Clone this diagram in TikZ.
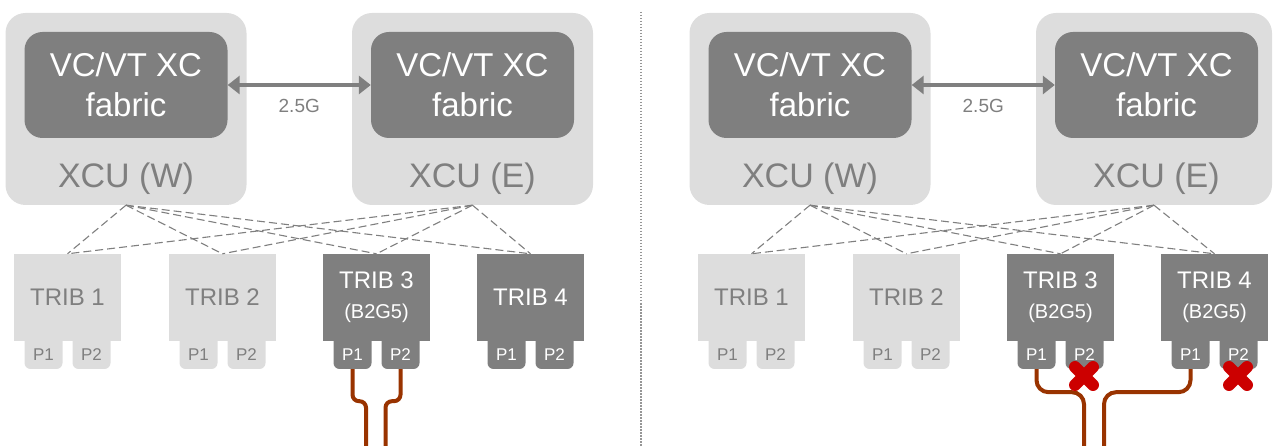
\documentclass[tikz,border=0pt]{standalone}
\usepackage{fontspec}
\setmainfont{Liberation Sans}
\usetikzlibrary{arrows.meta}

\definecolor{boxlight}{RGB}{221,221,221}
\definecolor{boxdark}{RGB}{127,127,127}
\definecolor{textgray}{RGB}{127,127,127}
\definecolor{cablebrown}{RGB}{153,51,0}
\definecolor{failred}{RGB}{204,0,0}
\definecolor{sepgray}{RGB}{150,150,150}

\tikzset{
	xcu_box/.style={fill=boxlight, rounded corners=20pt, minimum width=241pt, minimum height=192pt, inner sep=0pt},
	fabric_box/.style={fill=boxdark, rounded corners=18pt, minimum width=203pt, minimum height=106pt, inner sep=0pt, text=white, align=center, font=\fontsize{33}{40}\selectfont},
	xcu_label/.style={anchor=base, inner sep=0pt, text=textgray, font=\fontsize{34}{40}\selectfont},
	trib_idle/.style={fill=boxlight, minimum width=107pt, minimum height=87pt, inner sep=0pt, text=textgray, align=center, font=\fontsize{24}{30}\selectfont},
	trib_active/.style={trib_idle, fill=boxdark, text=white},
	port_idle/.style={fill=boxlight, rounded corners=6pt, minimum width=38pt, minimum height=36pt, inner sep=0pt, text height=18.7pt, text depth=0pt, text=textgray, font=\fontsize{17}{20}\selectfont},
	port_active/.style={port_idle, fill=boxdark, text=white},
	fabric_link/.style={draw=boxdark, line width=4.5pt, {Triangle[length=12pt,width=18pt]}-{Triangle[length=12pt,width=18pt]}},
	rate_label/.style={inner sep=0pt, text=textgray, font=\fontsize{19}{22}\selectfont},
	trib_link/.style={draw=boxdark, line width=1.1pt, dash pattern=on 8pt off 4pt},
	cable/.style={draw=cablebrown, line width=4pt},
	fail_mark/.style={draw=failred, line width=12pt, line cap=round},
	sep_line/.style={draw=sepgray, line width=1.5pt, dash pattern=on 1.5pt off 1.5pt},
}

\begin{document}
\begin{tikzpicture}[x=1pt, y=-1pt]

	\useasboundingbox (0,0) rectangle (1275,446);

	% Left: XCU nodes.
	\node[xcu_box] (l_xcu_w) at (126,109) {};
	\node[xcu_box] (l_xcu_e) at (472.5,109) {};
	\node[fabric_box] (l_fab_w) at (126,85) {VC/VT XC\\fabric};
	\node[fabric_box] (l_fab_e) at (472.5,85) {VC/VT XC\\fabric};
	\node[xcu_label] (l_lbl_w) at (126,188) {XCU (W)};
	\node[xcu_label] (l_lbl_e) at (472.5,188) {XCU (E)};

	% Left: ports, then tribs on top.
	\node[port_idle] (l_t1_p1) at (43.5,351) {P1};
	\node[port_idle] (l_t1_p2) at (91.5,351) {P2};
	\node[port_idle] (l_t2_p1) at (198.5,351) {P1};
	\node[port_idle] (l_t2_p2) at (246.5,351) {P2};
	\node[port_active] (l_t3_p1) at (352.5,351) {P1};
	\node[port_active] (l_t3_p2) at (400.5,351) {P2};
	\node[port_active] (l_t4_p1) at (506.5,351) {P1};
	\node[port_active] (l_t4_p2) at (554.5,351) {P2};
	\node[trib_idle] (l_trib1) at (67.5,297.5) {TRIB 1};
	\node[trib_idle] (l_trib2) at (222.5,297.5) {TRIB 2};
	\node[trib_active] (l_trib3) at (376.5,297.5) {TRIB 3\\{\fontsize{20}{30}\selectfont (B2G5)}};
	\node[trib_active] (l_trib4) at (530.5,297.5) {TRIB 4};

	\coordinate (l_cab1_end) at (366,446);
	\coordinate (l_cab2_end) at (385.5,446);

	% Left: links.
	\draw[fabric_link] (l_fab_w.east) -- (l_fab_e.west)
		node[rate_label, midway, below=12pt] (l_rate) {2.5G};
	\draw[trib_link] (l_xcu_w.south) -- (l_trib1.north);
	\draw[trib_link] (l_xcu_w.south) -- (l_trib2.north);
	\draw[trib_link] (l_xcu_w.south) -- (l_trib3.north);
	\draw[trib_link] (l_xcu_w.south) -- (l_trib4.north);
	\draw[trib_link] (l_xcu_e.south) -- (l_trib1.north);
	\draw[trib_link] (l_xcu_e.south) -- (l_trib2.north);
	\draw[trib_link] (l_xcu_e.south) -- (l_trib3.north);
	\draw[trib_link] (l_xcu_e.south) -- (l_trib4.north);

	% Left: cables.
	\draw[cable, rounded corners=6.5pt] (l_t3_p1.south) -- ++(0,32) -| (l_cab1_end);
	\draw[cable, rounded corners=6.5pt] (l_t3_p2.south) -- ++(0,32) -| (l_cab2_end);

	% Separator.
	\coordinate (sep_top) at (641,12);
	\coordinate (sep_bottom) at (641,446);
	\draw[sep_line] (sep_top) -- (sep_bottom);

	% Right: XCU nodes.
	\node[xcu_box] (r_xcu_w) at (810,109) {};
	\node[xcu_box, minimum width=236pt] (r_xcu_e) at (1154,109) {};
	\node[fabric_box] (r_fab_w) at (810,85) {VC/VT XC\\fabric};
	\node[fabric_box] (r_fab_e) at (1156.5,85) {VC/VT XC\\fabric};
	\node[xcu_label] (r_lbl_w) at (810,188) {XCU (W)};
	\node[xcu_label] (r_lbl_e) at (1156.5,188) {XCU (E)};

	% Right: ports, then tribs on top.
	\node[port_idle] (r_t1_p1) at (727.5,351) {P1};
	\node[port_idle] (r_t1_p2) at (775.5,351) {P2};
	\node[port_idle] (r_t2_p1) at (882.5,351) {P1};
	\node[port_idle] (r_t2_p2) at (930.5,351) {P2};
	\node[port_active] (r_t3_p1) at (1036.5,351) {P1};
	\node[port_active] (r_t3_p2) at (1084.5,351) {P2};
	\node[port_active] (r_t4_p1) at (1190.5,351) {P1};
	\node[port_active] (r_t4_p2) at (1238.5,351) {P2};
	\node[trib_idle] (r_trib1) at (751.5,297.5) {TRIB 1};
	\node[trib_idle] (r_trib2) at (906.5,297.5) {TRIB 2};
	\node[trib_active] (r_trib3) at (1060.5,297.5) {TRIB 3\\{\fontsize{20}{30}\selectfont (B2G5)}};
	\node[trib_active] (r_trib4) at (1214.5,297.5) {TRIB 4\\{\fontsize{20}{30}\selectfont (B2G5)}};

	\coordinate (r_cab1_end) at (1084,446);
	\coordinate (r_cab2_end) at (1104,446);

	% Right: links.
	\draw[fabric_link] (r_fab_w.east) -- (r_fab_e.west)
		node[rate_label, midway, below=12pt] (r_rate) {2.5G};
	\draw[trib_link] (r_xcu_w.south) -- (r_trib1.north);
	\draw[trib_link] (r_xcu_w.south) -- (r_trib2.north);
	\draw[trib_link] (r_xcu_w.south) -- (r_trib3.north);
	\draw[trib_link] (r_xcu_w.south) -- (r_trib4.north);
	\draw[trib_link] (r_xcu_e.south) -- (r_trib1.north);
	\draw[trib_link] (r_xcu_e.south) -- (r_trib2.north);
	\draw[trib_link] (r_xcu_e.south) -- (r_trib3.north);
	\draw[trib_link] (r_xcu_e.south) -- (r_trib4.north);

	% Right: cables and failed ports.
	\draw[cable, rounded corners=12pt] (r_t3_p1.south) -- ++(0,23) -| (r_cab1_end);
	\draw[cable, rounded corners=12pt] (r_t4_p1.south) -- ++(0,23) -| (r_cab2_end);
	\draw[fail_mark] (1075,367) -- (1093,385) (1075,385) -- (1093,367);
	\draw[fail_mark] (1229,367) -- (1247,385) (1229,385) -- (1247,367);

\end{tikzpicture}
\end{document}
